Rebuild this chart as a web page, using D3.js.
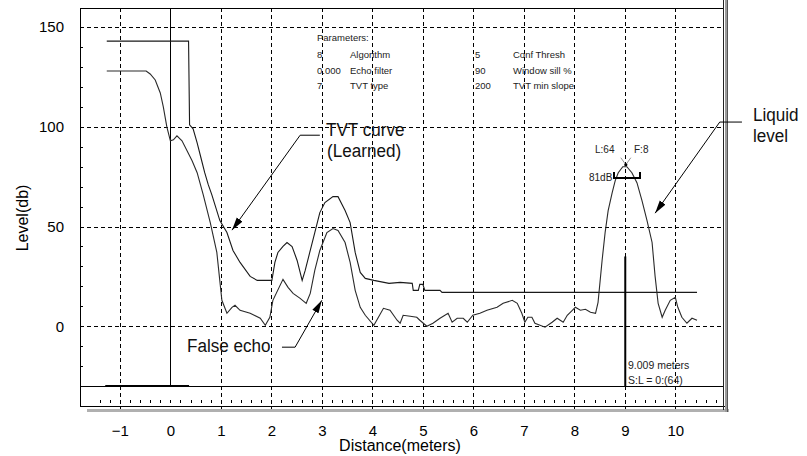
<!DOCTYPE html>
<html>
<head>
<meta charset="utf-8">
<script src="https://cdn.jsdelivr.net/npm/d3@7"></script>
<style>
	body { margin: 0; background: #fff; }
	svg { display: block; font-family: "Liberation Sans", Arial, sans-serif; }
</style>
</head>
<body>
<div id="chart"></div>
<script>
// ---- data ----
const xTicks = [-1, 0, 1, 2, 3, 4, 5, 6, 7, 8, 9, 10];
const yTicks = [0, 50, 100, 150];

// echo profile: [distance m, level dB]
const echo = [
	[-1.26, 128], [-0.48, 128], [-0.4, 126.5], [-0.3, 123.5], [-0.2, 117], [-0.14, 110],
	[-0.07, 100], [0, 93], [0.06, 93.5], [0.13, 95.5], [0.23, 93], [0.33, 88], [0.43, 83],
	[0.53, 77], [0.65, 66], [0.79, 52], [0.92, 37], [1.02, 13], [1.12, 6.5], [1.22, 9.5],
	[1.28, 10.5], [1.38, 8], [1.58, 6.5], [1.78, 4], [1.88, 0.5], [1.97, 4.5], [2.03, 13],
	[2.23, 23.5], [2.33, 19.5], [2.43, 16.5], [2.57, 14], [2.69, 11.5], [2.77, 16.5],
	[2.86, 28], [2.96, 38], [3.1, 47], [3.22, 49], [3.32, 48], [3.46, 42], [3.56, 32],
	[3.66, 18], [3.76, 9.5], [3.86, 5.5], [4.03, 0.5], [4.12, 4.5], [4.22, 9], [4.35, 8],
	[4.49, 3], [4.55, 1.5], [4.61, 5.5], [4.75, 5], [4.88, 4.5], [4.94, 3], [5.08, 0],
	[5.2, 1.5], [5.34, 4], [5.5, 6.5], [5.58, 2], [5.68, 4], [5.8, 4], [5.88, 2],
	[5.99, 5.5], [6.13, 6.5], [6.27, 8], [6.47, 9.5], [6.59, 11.5], [6.77, 13], [6.87, 11.5],
	[6.96, 6.5], [7.02, 2], [7.08, 4.5], [7.16, 4.5], [7.22, 1.5], [7.42, -0.5], [7.56, 2],
	[7.66, 4], [7.78, 2], [7.86, 5.5], [7.96, 8], [8.02, 9.5], [8.12, 8], [8.22, 8.5],
	[8.32, 7], [8.42, 6.5], [8.47, 12], [8.55, 33], [8.61, 47], [8.67, 58], [8.75, 67],
	[8.81, 73], [8.87, 77], [8.96, 80], [9.04, 80], [9.14, 77], [9.24, 72], [9.34, 63],
	[9.44, 53], [9.54, 42], [9.6, 25], [9.66, 11.5], [9.74, 4.5], [9.8, 8], [9.9, 13],
	[10.0, 14.5], [10.05, 9.5], [10.13, 4.5], [10.23, 1.5], [10.33, 4], [10.43, 3]
];

// learned TVT curve
const tvt = [
	[-1.26, 143], [0.36, 143], [0.38, 101], [0.45, 99], [0.53, 92], [0.6, 85], [0.68, 77],
	[0.75, 71], [0.82, 66], [0.98, 53], [1.12, 47], [1.24, 38], [1.38, 32], [1.58, 25],
	[1.72, 23], [2.01, 23], [2.07, 32], [2.13, 37], [2.23, 40], [2.31, 42], [2.41, 40],
	[2.51, 33], [2.61, 23], [2.67, 28], [2.76, 37], [2.86, 47], [2.96, 57], [3.06, 62],
	[3.22, 65], [3.32, 65], [3.46, 58], [3.56, 52], [3.66, 37], [3.76, 27], [3.86, 24],
	[4.03, 23], [4.33, 21.5], [4.55, 22], [4.79, 21.5], [4.81, 18], [4.91, 18], [4.94, 21],
	[5.0, 21], [5.04, 18], [5.34, 18], [5.38, 17], [10.43, 17]
];

const blankLevel = -30;          // solid line across the plot
const blankStart = [-1.29, 0.37]; // thick segment on it
const markerDist = 9.009;
const markerTop = 35;
const peak = [9.0, 81];

const paramCol1 = ["8", "0.000", "7"];
const paramName1 = ["Algorithm", "Echo filter", "TVT type"];
const paramCol2 = ["5", "90", "200"];
const paramName2 = ["Conf Thresh", "Window sill %", "TVT min slope"];

// ---- chart ----
const W = 807, H = 456;
const svg = d3.select("#chart").append("svg").attr("width", W).attr("height", H);

const x = d3.scaleLinear().domain([-1.79, 11]).range([80, 725.8]);
const y = d3.scaleLinear().domain([-40, 159.6]).range([406, 8]);
const L = 80, R = 724, T = 8, B = 406;

svg.append("defs").append("marker")
	.attr("id", "head")
	.attr("viewBox", "0 -4 13 8")
	.attr("refX", 13).attr("refY", 0)
	.attr("markerWidth", 13).attr("markerHeight", 8)
	.attr("markerUnits", "userSpaceOnUse")
	.attr("orient", "auto")
	.append("path").attr("fill", "#000").attr("d", "M0,-3.5 L13,0 L0,3.5 z");

// grid
const grid = svg.append("g").attr("stroke", "#000").attr("stroke-width", 1)
	.attr("shape-rendering", "crispEdges");
grid.selectAll(".vg").data(xTicks.filter(d => d !== 0)).join("line")
	.attr("x1", d => Math.round(x(d)) + 0.5).attr("x2", d => Math.round(x(d)) + 0.5)
	.attr("y1", T).attr("y2", B + 8)
	.attr("stroke-dasharray", "4,3");
grid.selectAll(".hg").data(yTicks).join("line")
	.attr("x1", L).attr("x2", R)
	.attr("y1", d => Math.round(y(d)) + 0.5).attr("y2", d => Math.round(y(d)) + 0.5)
	.attr("stroke-dasharray", "4,3");
grid.append("line")
	.attr("x1", Math.round(x(0)) + 0.5).attr("x2", Math.round(x(0)) + 0.5)
	.attr("y1", T).attr("y2", Math.round(y(blankLevel)));
grid.append("line")
	.attr("x1", L).attr("x2", R)
	.attr("y1", Math.round(y(blankLevel)) + 0.5).attr("y2", Math.round(y(blankLevel)) + 0.5);

// minor ticks
svg.append("g").attr("transform", `translate(0,${B - 3})`)
	.call(d3.axisTop(x).tickValues(d3.range(-7, 55).map(i => i * 0.2)).tickSize(3).tickFormat(""))
	.call(g => g.select(".domain").remove())
	.call(g => g.selectAll("line").attr("shape-rendering", "crispEdges"));
svg.append("g").attr("transform", `translate(${L},0)`)
	.call(d3.axisRight(y).tickValues(d3.range(-30, 151, 10)).tickSize(3).tickFormat(""))
	.call(g => g.select(".domain").remove())
	.call(g => g.selectAll("line").attr("shape-rendering", "crispEdges"));

// frame
const frame = svg.append("g").attr("fill", "none").attr("shape-rendering", "crispEdges");
frame.append("path").attr("stroke", "#000")
	.attr("d", `M${L + 0.5},${B + 0.5} V${T + 0.5} H${R}`);
frame.append("line").attr("stroke", "#000")
	.attr("x1", L).attr("x2", R + 1).attr("y1", B + 0.5).attr("y2", B + 0.5);
frame.append("rect").attr("x", 87).attr("y", 409).attr("width", 642).attr("height", 3)
	.attr("fill", "#b0b0b0");
frame.append("line").attr("stroke", "#222")
	.attr("x1", 723.5).attr("x2", 723.5).attr("y1", 0).attr("y2", 410);
frame.append("line").attr("stroke", "#9a9a9a").attr("stroke-width", 2)
	.attr("x1", 726).attr("x2", 726).attr("y1", 0).attr("y2", 412);
frame.append("line").attr("stroke", "#555")
	.attr("x1", 727.5).attr("x2", 727.5).attr("y1", 0).attr("y2", 412);

// blanking segment
svg.append("line").attr("stroke", "#000").attr("stroke-width", 2)
	.attr("x1", x(blankStart[0])).attr("x2", x(blankStart[1]))
	.attr("y1", y(blankLevel)).attr("y2", y(blankLevel));

// curves
const line = d3.line().x(d => x(d[0])).y(d => y(d[1]));
svg.append("path").datum(tvt).attr("fill", "none").attr("stroke", "#1a1a1a")
	.attr("stroke-width", 1.1).attr("d", line);
svg.append("path").datum(echo).attr("fill", "none").attr("stroke", "#2a2a2a")
	.attr("stroke-width", 1.1).attr("d", line);

// marker line at 9.009 m
svg.append("line").attr("stroke", "#000").attr("stroke-width", 2)
	.attr("x1", x(markerDist)).attr("x2", x(markerDist))
	.attr("y1", y(markerTop)).attr("y2", y(blankLevel));

// axes labels
svg.append("g").attr("transform", `translate(0,${B})`)
	.call(d3.axisBottom(x).tickValues(xTicks).tickSize(0).tickPadding(19))
	.call(g => g.select(".domain").remove())
	.call(g => g.selectAll("text").attr("font-size", 15).attr("font-family", null).attr("fill", "#000"));
svg.append("g").attr("transform", `translate(${L},0)`)
	.call(d3.axisLeft(y).tickValues(yTicks).tickSize(0).tickPadding(16))
	.call(g => g.select(".domain").remove())
	.call(g => g.selectAll("text").attr("font-size", 15).attr("font-family", null).attr("fill", "#000"));

svg.append("text").attr("x", 400).attr("y", 451).attr("text-anchor", "middle")
	.attr("font-size", 16).text("Distance(meters)");
svg.append("text").attr("transform", "translate(28,218) rotate(-90)")
	.attr("text-anchor", "middle").attr("font-size", 16).text("Level(db)");

// parameters block
const pg = svg.append("g").attr("font-size", 9.5).attr("fill", "#222");
pg.append("text").attr("x", 317).attr("y", 41).text("Parameters:");
paramCol1.forEach((v, i) => {
	const yy = 58 + i * 15.5;
	pg.append("text").attr("x", 317).attr("y", yy).text(v);
	pg.append("text").attr("x", 350).attr("y", yy).text(paramName1[i]);
	pg.append("text").attr("x", 475).attr("y", yy).text(paramCol2[i]);
	pg.append("text").attr("x", 513).attr("y", yy).text(paramName2[i]);
});

// peak annotation
const px = x(peak[0]) + 1, py = y(peak[1]);
const pk = svg.append("g");
pk.append("path").attr("fill", "none").attr("stroke", "#777").attr("stroke-width", 0.8)
	.attr("d", `M${px - 5},${py - 7} L${px},${py} L${px + 5},${py - 7}`);
pk.append("circle").attr("cx", px).attr("cy", py).attr("r", 1.6).attr("fill", "#000");
pk.append("text").attr("x", 595).attr("y", 153).attr("font-size", 10).attr("fill", "#222").text("L:64");
pk.append("text").attr("x", 634).attr("y", 153).attr("font-size", 10).attr("fill", "#222").text("F:8");
pk.append("text").attr("x", 589).attr("y", 181).attr("font-size", 10).attr("fill", "#222").text("81dB");
pk.append("path").attr("fill", "none").attr("stroke", "#000").attr("stroke-width", 2)
	.attr("d", "M614,172 V178 H640 V172");

svg.append("text").attr("x", 628).attr("y", 369).attr("font-size", 10.5).attr("fill", "#222")
	.text("9.009 meters");
svg.append("text").attr("x", 628).attr("y", 384).attr("font-size", 10.5).attr("fill", "#222")
	.text("S:L = 0:(64)");

// callouts
const callouts = [
	{ pts: [[2.96, 95.8], [2.57, 95.8], [1.22, 48.2]] },
	{ pts: [[2.21, -10.5], [2.47, -10.5], [3.0, 13]] },
	{ pts: [[11.32, 102.4], [10.88, 102.4], [9.6, 56.7]] }
];
svg.append("g").selectAll("path").data(callouts).join("path")
	.attr("fill", "none").attr("stroke", "#000").attr("stroke-width", 1)
	.attr("marker-end", "url(#head)")
	.attr("d", d => line(d.pts));

// condensed callout labels (no narrow face installed, so squeeze horizontally)
const labels = [
	{ t: "TVT curve", x: 326, y: 136 },
	{ t: "(Learned)", x: 327, y: 157 },
	{ t: "False echo", x: 187, y: 352 },
	{ t: "Liquid", x: 753, y: 121 },
	{ t: "level", x: 753, y: 142 }
];
svg.append("g").attr("font-size", 19).attr("fill", "#111")
	.selectAll("text").data(labels).join("text")
	.attr("transform", d => `translate(${d.x},${d.y}) scale(0.9,1)`)
	.text(d => d.t);
</script>
</body>
</html>
